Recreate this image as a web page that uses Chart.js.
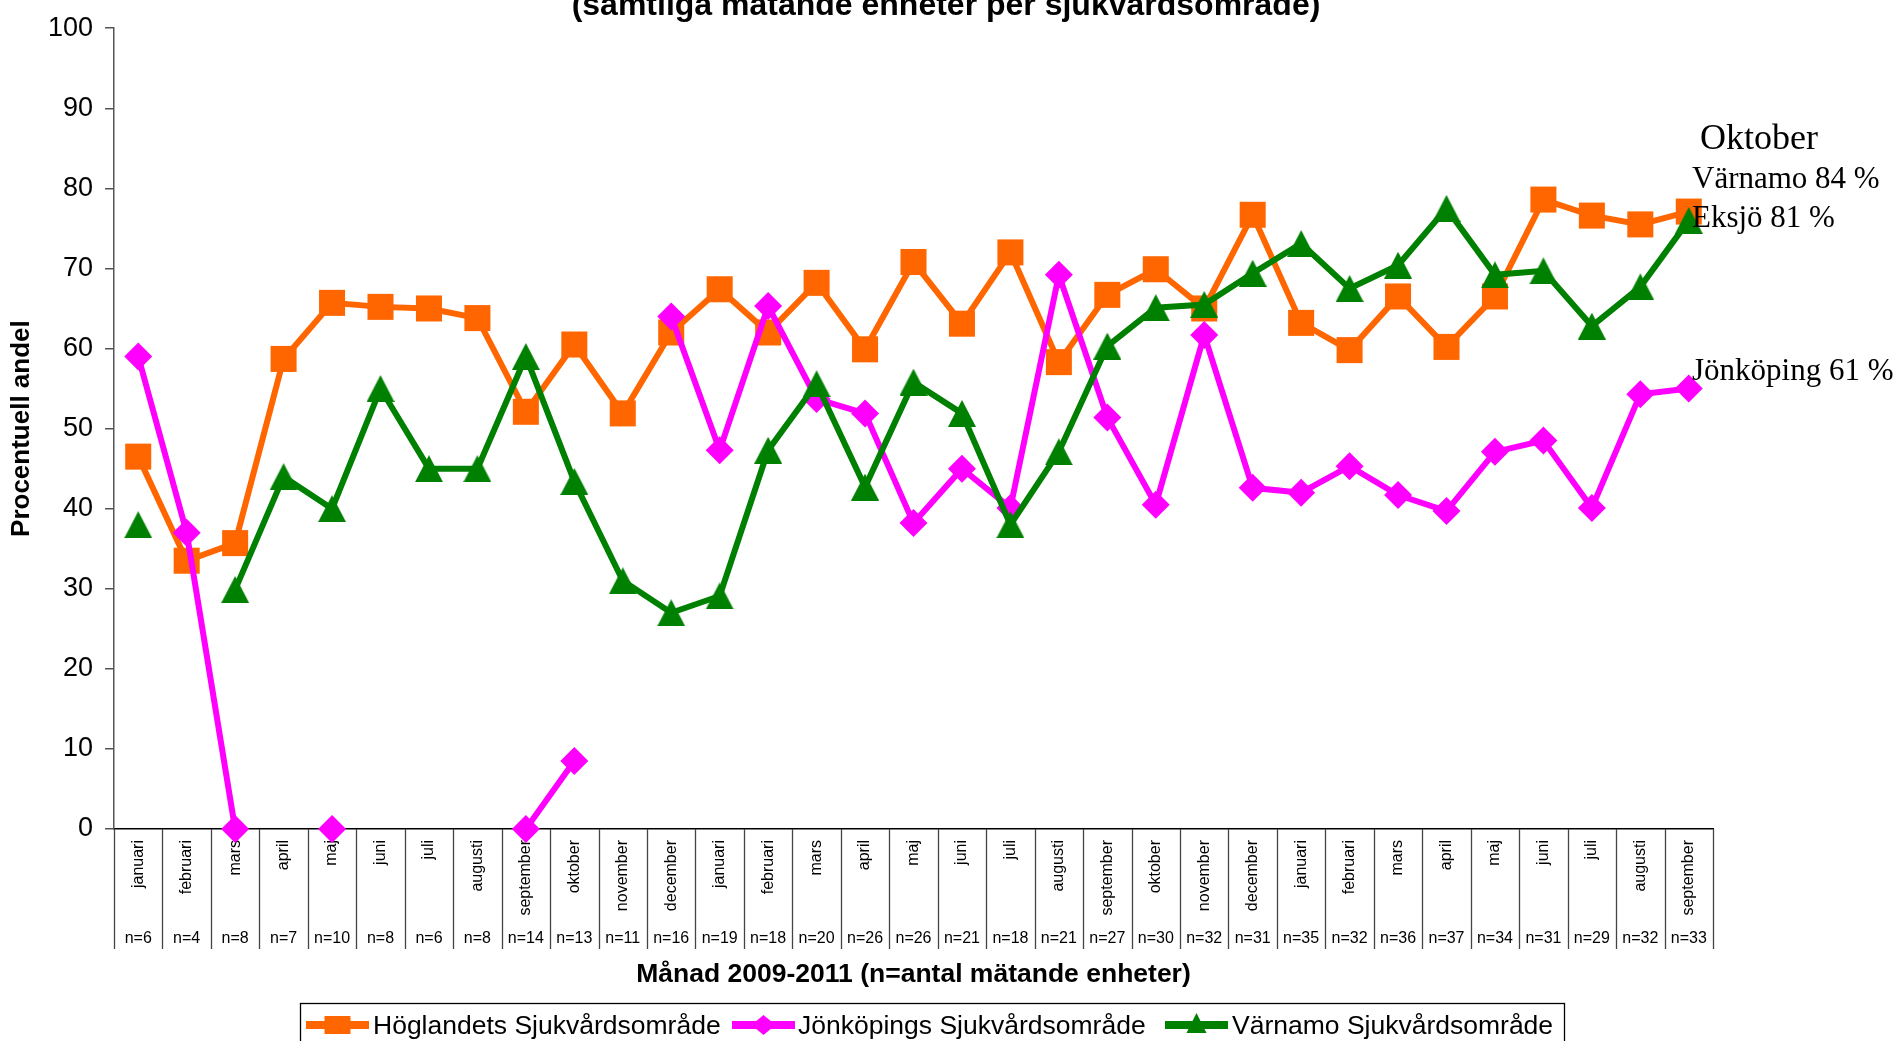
<!DOCTYPE html>
<html>
<head>
<meta charset="utf-8">
<script src="https://cdn.jsdelivr.net/npm/chart.js@4.4.1/dist/chart.umd.min.js"></script>
<style>
html,body{margin:0;padding:0;background:#fff;overflow:hidden;}
#wrap{width:1901px;height:1041px;position:relative;}
</style>
</head>
<body>
<div id="wrap"><canvas id="c" width="1901" height="1041"></canvas></div>
<script>
// ---- data ----
const months = [
  'januari','februari','mars','april','maj','juni','juli','augusti','september','oktober','november','december',
  'januari','februari','mars','april','maj','juni','juli','augusti','september','oktober','november','december',
  'januari','februari','mars','april','maj','juni','juli','augusti','september'
];
const nCounts = [
  'n=6','n=4','n=8','n=7','n=10','n=8','n=6','n=8','n=14','n=13','n=11','n=16',
  'n=19','n=18','n=20','n=26','n=26','n=21','n=18','n=21','n=27','n=30','n=32','n=31',
  'n=35','n=32','n=36','n=37','n=34','n=31','n=29','n=32','n=33'
];
const hoglandet = [
  46.5, 33.5, 35.7, 58.7, 65.7, 65.2, 65.0, 63.8, 52.1, 60.5, 51.9, 62.0,
  67.4, 62.0, 68.2, 59.9, 70.8, 63.1, 72.0, 58.3, 66.7, 69.9, 65.0, 76.7,
  63.2, 59.8, 66.5, 60.2, 66.5, 78.6, 76.6, 75.5, 77.1
];
const jonkoping = [
  59.0, 37.0, 0, null, 0, null, null, null, 0, 8.5, null, 64.0,
  47.3, 65.3, 53.7, 51.9, 38.2, 45.0, 40.1, 69.2, 51.4, 40.5, 61.7, 42.6,
  42.0, 45.3, 41.7, 39.7, 47.1, 48.5, 40.1, 54.3, 55.0
];
const varnamo = [
  38.0, null, 29.9, 44.0, 40.0, 55.0, 45.0, 45.0, 59.0, 43.4, 31.0, 27.0,
  29.1, 47.3, 55.6, 42.7, 55.8, 51.9, 38.0, 47.1, 60.3, 65.1, 65.5, 69.4,
  73.1, 67.5, 70.4, 77.5, 69.2, 69.7, 62.8, 67.7, 76.0
];
const seriesNames = ['Höglandets Sjukvårdsområde','Jönköpings Sjukvårdsområde','Värnamo Sjukvårdsområde'];
const titleText = '(samtliga mätande enheter per sjukvårdsområde)';
const yTitle = 'Procentuell andel';
const xTitle = 'Månad 2009-2011 (n=antal mätande enheter)';
const notes = ['Oktober','Värnamo 84 %','Eksjö 81 %','Jönköping 61 %'];

// ---- styles ----
const SANS = "'Liberation Sans', Arial, sans-serif";
const SERIF = "'Liberation Serif', 'Times New Roman', serif";
const ORANGE = '#FF6600', MAGENTA = '#FF00FF', GREEN = '#008000';

function triangleImg(w, h, color) {
  const c = document.createElement('canvas');
  c.width = w; c.height = h;
  const g = c.getContext('2d');
  g.fillStyle = color;
  g.beginPath();
  g.moveTo(w / 2, 0);
  g.lineTo(w, h);
  g.lineTo(0, h);
  g.closePath();
  g.fill();
  return c;
}
const triMarker = triangleImg(28, 27, GREEN);

const decor = {
  id: 'decor',
  beforeDraw(chart) {
    const ctx = chart.ctx;
    ctx.save();
    ctx.fillStyle = '#fff';
    ctx.fillRect(0, 0, chart.width, chart.height);
    ctx.restore();
  },
  beforeDatasetsDraw(chart) {
    const ctx = chart.ctx;
    const xs = chart.scales.x;
    const area = chart.chartArea;
    const step = (xs.right - xs.left) / months.length;
    ctx.save();
    ctx.strokeStyle = '#444';
    ctx.lineWidth = 1.3;
    for (let i = 0; i <= months.length; i++) {
      const x = Math.round(xs.getPixelForValue(0) - step / 2 + i * step) + 0.5;
      ctx.beginPath();
      ctx.moveTo(x, area.bottom);
      ctx.lineTo(x, 949);
      ctx.stroke();
    }
    ctx.restore();
  },
  afterDraw(chart) {
    const ctx = chart.ctx;
    ctx.save();
    // title (partly cut at top)
    ctx.fillStyle = '#000';
    ctx.font = 'bold 32px ' + SANS;
    ctx.textAlign = 'center';
    ctx.textBaseline = 'alphabetic';
    ctx.fillText(titleText, 946, 15);

    // annotations
    ctx.textAlign = 'left';
    ctx.font = '36px ' + SERIF;
    ctx.fillText(notes[0], 1700, 149);
    ctx.font = '31px ' + SERIF;
    ctx.fillText(notes[1], 1692, 188);
    ctx.fillText(notes[2], 1692, 227);
    ctx.fillText(notes[3], 1692, 380);

    // legend box
    ctx.strokeStyle = '#000';
    ctx.lineWidth = 1.3;
    ctx.strokeRect(300.5, 1003.5, 1264, 60);
    const items = [
      {lx: 306, tx: 373},
      {lx: 732, tx: 798},
      {lx: 1165, tx: 1232}
    ];
    const ly = 1025;
    chart.data.datasets.forEach((ds, i) => {
      const it = items[i];
      ctx.strokeStyle = ds.borderColor;
      ctx.lineWidth = 8;
      ctx.beginPath();
      ctx.moveTo(it.lx, ly);
      ctx.lineTo(it.lx + 63, ly);
      ctx.stroke();
      const cx = it.lx + 31.5;
      ctx.fillStyle = ds.borderColor;
      ctx.beginPath();
      if (i === 0) {
        ctx.rect(cx - 13, ly - 9, 26, 18);
      } else if (i === 1) {
        ctx.moveTo(cx - 12, ly); ctx.lineTo(cx, ly - 10); ctx.lineTo(cx + 12, ly); ctx.lineTo(cx, ly + 10); ctx.closePath();
      } else {
        ctx.moveTo(cx, ly - 12); ctx.lineTo(cx + 10, ly + 8); ctx.lineTo(cx - 10, ly + 8); ctx.closePath();
      }
      ctx.fill();
      ctx.fillStyle = '#000';
      ctx.font = '26.5px ' + SANS;
      ctx.textBaseline = 'middle';
      ctx.fillText(ds.label, it.tx, ly + 2);
    });
    ctx.restore();
  }
};

new Chart(document.getElementById('c'), {
  type: 'line',
  data: {
    labels: months,
    datasets: [
      {
        label: seriesNames[0], data: hoglandet, order: 3,
        borderColor: ORANGE, backgroundColor: ORANGE, borderWidth: 6,
        pointStyle: 'rect', pointRadius: 18.4, pointBackgroundColor: ORANGE, pointBorderColor: ORANGE, pointBorderWidth: 0,
        tension: 0, spanGaps: false, clip: false
      },
      {
        label: seriesNames[1], data: jonkoping, order: 2,
        borderColor: MAGENTA, backgroundColor: MAGENTA, borderWidth: 6,
        pointStyle: 'rectRot', pointRadius: 14, pointBackgroundColor: MAGENTA, pointBorderColor: MAGENTA, pointBorderWidth: 0,
        tension: 0, spanGaps: false, clip: false
      },
      {
        label: seriesNames[2], data: varnamo, order: 1,
        borderColor: GREEN, backgroundColor: GREEN, borderWidth: 6,
        pointStyle: triMarker, pointRadius: 14,
        tension: 0, spanGaps: false, clip: false
      }
    ]
  },
  options: {
    responsive: false,
    animation: false,
    devicePixelRatio: 1,
    layout: { padding: { top: 22, right: 188, bottom: 50, left: 0 } },
    plugins: { legend: { display: false }, title: { display: false }, tooltip: { enabled: false } },
    events: [],
    scales: {
      x: {
        type: 'category', position: 'bottom', offset: true, weight: 0,
        grid: { display: false, drawTicks: false },
        border: { display: true, color: '#000', width: 1.5 },
        ticks: { autoSkip: false, minRotation: 90, maxRotation: 90, padding: 11, color: '#000', font: { size: 16, family: SANS } },
        afterFit(s) { s.height = 100; }
      },
      xn: {
        type: 'category', position: 'bottom', offset: true, weight: 1, labels: nCounts,
        grid: { display: false, drawTicks: false },
        border: { display: false },
        ticks: { autoSkip: false, minRotation: 0, maxRotation: 0, padding: 0, color: '#000', font: { size: 16, family: SANS } },
        title: { display: true, text: xTitle, color: '#000', padding: 0, font: { size: 26.5, weight: 'bold', family: SANS } },
        afterFit(s) { s.height = 62; }
      },
      y: {
        min: 0, max: 100,
        ticks: { stepSize: 10, padding: 12, color: '#000', font: { size: 27, family: SANS } },
        grid: { display: true, drawOnChartArea: false, drawTicks: true, tickLength: 9, color: '#555', lineWidth: 1.5 },
        border: { display: true, color: '#555', width: 1.5 },
        title: { display: true, text: yTitle, color: '#000', padding: { top: 6, bottom: 0 }, font: { size: 26, weight: 'bold', family: SANS } },
        afterFit(s) { s.width = 114; }
      }
    }
  },
  plugins: [decor]
});
</script>
</body>
</html>
